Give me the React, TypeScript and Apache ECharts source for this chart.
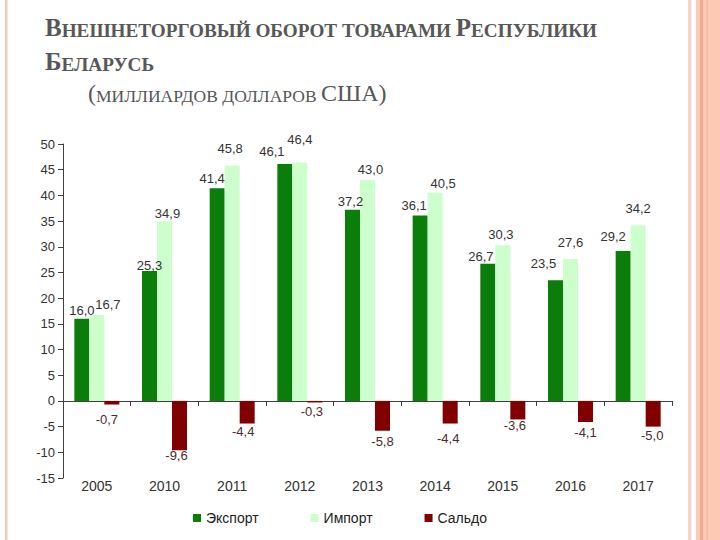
import React, { useEffect, useRef } from 'react';
import * as echarts from 'echarts';

const years = ['2005', '2010', '2011', '2012', '2013', '2014', '2015', '2016', '2017'];
const exportValues = [16.0, 25.3, 41.4, 46.1, 37.2, 36.1, 26.7, 23.5, 29.2];
const importValues = [16.7, 34.9, 45.8, 46.4, 43.0, 40.5, 30.3, 27.6, 34.2];
const saldoValues = [-0.7, -9.6, -4.4, -0.3, -5.8, -4.4, -3.6, -4.1, -5.0];
const seriesNames = ['Экспорт', 'Импорт', 'Сальдо'];
const yMin = -15;
const yMax = 50;
const yInterval = 5;

// small nudges of the data labels, as placed in the original slide
const exportLabelNudge = [[0, 3], [0, 6], [-5, 2], [-13, -1], [-2, 3], [-6, 2], [-7, 4], [-12, -5], [-10, -3]];
const importLabelNudge = [[11, 1], [3, 3], [-2, -6], [0, -11], [3, 1], [8, 2], [-2, 1], [0, -5], [0, -5]];
const saldoLabelNudge = [[-5, 3], [-3, -6], [-4, -4], [-3, -2], [0, -1], [-2, 3], [-3, -5], [0, -1], [-1, -3]];

const fmt = (p: any) => Number(p.value).toFixed(1).replace('.', ',');

export default function App() {
  const ref = useRef<HTMLDivElement>(null);
  useEffect(() => {
    if (!ref.current) return;
    const chart = echarts.init(ref.current, null, { renderer: 'svg' });
    const sans = 'Liberation Sans, Arial, sans-serif';
    const serif = 'Liberation Serif, Times New Roman, serif';
    const titleColor = '#575757';
    const mk = (vals: number[], nudges: number[][]) =>
      vals.map((v, i) => ({ value: v, label: { offset: nudges[i] } }));
    const boldRich = {
      b: { fontFamily: serif, fontWeight: 'bold', fontSize: 25, color: titleColor, verticalAlign: 'bottom' },
      s: { fontFamily: serif, fontWeight: 'bold', fontSize: 19.2, color: titleColor, verticalAlign: 'bottom' },
    };
    chart.setOption({
      animation: false,
      backgroundColor: '#ffffff',
      title: [
        {
          left: 45,
          top: 15,
          padding: 0,
          text: '{b|В}{s|НЕШНЕТОРГОВЫЙ ОБОРОТ ТОВАРАМИ }{b|Р}{s|ЕСПУБЛИКИ}',
          textStyle: { rich: boldRich },
        },
        {
          left: 45,
          top: 49,
          padding: 0,
          text: '{b|Б}{s|ЕЛАРУСЬ}',
          textStyle: { rich: boldRich },
        },
        {
          left: 88,
          top: 81,
          padding: 0,
          text: '{b|(}{s|МИЛЛИАРДОВ ДОЛЛАРОВ }{b|США)}',
          textStyle: {
            fontWeight: 'normal',
            rich: {
              b: { fontFamily: serif, fontWeight: 'normal', fontSize: 24, color: titleColor, verticalAlign: 'bottom' },
              s: { fontFamily: serif, fontWeight: 'normal', fontSize: 17.5, color: titleColor, verticalAlign: 'bottom' },
            },
          },
        },
      ],
      graphic: [
        { type: 'rect', shape: { x: 5, y: 0, width: 2.5, height: 540 }, style: { fill: '#f6c8b9' }, silent: true },
        { type: 'rect', shape: { x: 688, y: 0, width: 3.5, height: 540 }, style: { fill: '#f6d3c9' }, silent: true },
        { type: 'rect', shape: { x: 696, y: 0, width: 24, height: 540 }, style: { fill: '#fdc9b4' }, silent: true },
        { type: 'rect', shape: { x: 700, y: 0, width: 3, height: 540 }, style: { fill: '#f1ab90' }, silent: true },
        { type: 'rect', shape: { x: 706.5, y: 0, width: 1.5, height: 540 }, style: { fill: '#f7bba4' }, silent: true },
      ],
      legend: {
        data: seriesNames,
        left: 193,
        top: 511,
        padding: 0,
        icon: 'rect',
        itemWidth: 8,
        itemHeight: 8,
        itemGap: 52,
        textStyle: { fontFamily: sans, fontSize: 14, color: '#222' },
      },
      grid: { left: 63, right: 48, top: 144, bottom: 62 },
      xAxis: [
        {
          type: 'category',
          data: years,
          position: 'bottom',
          axisLine: { onZero: true, lineStyle: { color: '#404040', width: 1 } },
          axisTick: { show: true, length: 5, lineStyle: { color: '#404040' } },
          axisLabel: { show: false },
        },
        {
          type: 'category',
          data: years,
          position: 'bottom',
          axisLine: { show: false, onZero: false },
          axisTick: { show: false },
          axisLabel: { fontFamily: sans, fontSize: 14, color: '#333', margin: 1 },
        },
      ],
      yAxis: {
        type: 'value',
        min: yMin,
        max: yMax,
        interval: yInterval,
        axisLine: { show: true, lineStyle: { color: '#404040', width: 1 } },
        axisTick: { show: true, length: 5, lineStyle: { color: '#404040' } },
        splitLine: { show: false },
        axisLabel: { fontFamily: sans, fontSize: 13, color: '#333', margin: 8 },
      },
      series: [
        {
          name: seriesNames[0],
          type: 'bar',
          xAxisIndex: 0,
          data: mk(exportValues, exportLabelNudge),
          barWidth: 15,
          barGap: '0%',
          itemStyle: { color: '#0a7d0a' },
          label: { show: true, position: 'top', formatter: fmt, fontFamily: sans, fontSize: 13, color: '#333' },
        },
        {
          name: seriesNames[1],
          type: 'bar',
          xAxisIndex: 0,
          data: mk(importValues, importLabelNudge),
          barWidth: 15,
          barGap: '0%',
          itemStyle: { color: '#ccffcc' },
          label: { show: true, position: 'top', formatter: fmt, fontFamily: sans, fontSize: 13, color: '#333' },
        },
        {
          name: seriesNames[2],
          type: 'bar',
          xAxisIndex: 0,
          data: mk(saldoValues, saldoLabelNudge),
          barWidth: 15,
          barGap: '0%',
          itemStyle: { color: '#800000' },
          label: { show: true, position: 'bottom', formatter: fmt, fontFamily: sans, fontSize: 13, color: '#4a2c2c' },
        },
      ],
    });
    return () => chart.dispose();
  }, []);
  return <div ref={ref} style={{ position: 'fixed', left: 0, top: 0, width: 720, height: 540 }} />;
}
